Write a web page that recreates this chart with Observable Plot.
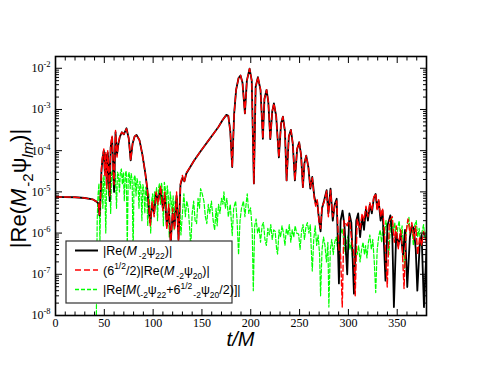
<!DOCTYPE html>
<html><head><meta charset="utf-8">
<script src="https://cdn.jsdelivr.net/npm/d3@7"></script>
<script src="https://cdn.jsdelivr.net/npm/@observablehq/plot@0.6"></script>
<style>body{margin:0;background:#fff}</style>
</head><body><div id="chart"></div>
<script>
// |Re(M -2psi22)|  (black, solid)
const blackT = [0,10,20,30,38,42,44,45,46,47,48,49.5,50.5,51.5,52.5,53.5,54.5,55.5,56.5,58,59,60,61.5,63,64.5,66,68,70,72.7,75,77,79,81,83,86,89,92,94,96,97,99,101,103,105,107.6,110,112,114,116,118,120,122,124,126,128,130,132,134,138,142,147,152,157,162,167,171,175,177,179,181,183,185,187.5,189.5,191.5,194,196,198.8,201,203.2,205,207.3,210,212.4,214,216.2,218,220,222,223.7,226,228.8,231,232.9,235,236.7,239,241.1,243,245.2,247.5,249.6,251.5,253.4,255,256.8,259,261,263,265,266.5,268,270,271.5,273,275,277.7,279.5,281.7,284,286,288,290.3,292,294,296,298.8,301,303,305.7,308,310,312,314,316,318,320,322,324,326,327.9,329.5,331,333,335,338,340,343,345,346.6,349,351,353.5,356,358,360.3,363,365,367,369,370.6,373,375,377.4,380];
const blackV = [7.6e-6,7.5e-6,7.4e-6,7.1e-6,6.6e-6,5.8e-6,5.2e-6,2.7e-6,6e-6,3e-5,6e-5,1e-4,3e-5,8e-5,1.5e-5,9e-5,4e-5,6e-6,1.2e-4,2.1e-4,5e-5,1e-5,2.8e-4,8e-5,1.5e-4,2.2e-4,2.8e-4,2.5e-4,3.5e-4,2e-4,5.8e-5,1.5e-4,2.2e-4,2.4e-4,1.8e-4,8e-5,2.8e-5,1.2e-5,3e-6,1.8e-6,5e-6,3e-6,9e-6,6e-6,1.2e-5,4e-6,8e-6,1.5e-6,4e-6,6e-7,3e-6,1.5e-6,8e-6,7e-7,1.5e-5,2.2e-5,1.8e-5,2.8e-5,4e-5,5.8e-5,8.5e-5,1.25e-4,1.8e-4,2.6e-4,3.8e-4,5.5e-4,7.4e-4,7e-4,3e-4,4e-5,8e-4,3e-3,5.8e-3,6.7e-3,4.5e-3,8e-4,5e-3,9.8e-3,5e-3,1.6e-5,3.5e-3,6.1e-3,3e-3,1.95e-4,1.8e-3,3e-3,1.5e-3,1.9e-4,9e-4,1.4e-3,7e-4,6.9e-5,4.5e-4,6.7e-4,3e-4,1.9e-5,2.2e-4,3.2e-4,1.5e-4,1.9e-5,1.1e-4,1.6e-4,8e-5,1.3e-5,5e-5,7.6e-5,4e-5,1.2e-5,2.3e-5,8e-6,5.3e-6,6e-6,2e-6,1.1e-6,4e-6,6e-6,1.1e-5,3e-6,1.2e-5,2e-6,5e-6,6.8e-6,6e-8,2e-6,3.5e-6,1.5e-6,1e-7,3e-6,1.8e-6,3.4e-8,2e-6,3e-6,8e-7,2.5e-6,1.2e-6,4e-6,2e-6,5e-6,3e-6,7e-6,8.9e-6,4e-6,6e-6,2e-6,3.5e-6,7e-8,1.5e-6,2.7e-6,8e-7,1.6e-8,1e-6,5e-7,9.5e-7,3e-7,1.2e-6,4.9e-8,8e-7,1.5e-6,1.3e-6,4e-7,4e-8,5e-7,9e-7,1.6e-8,4e-7];

// (6^{1/2}/2)|Re(M -2psi20)|  (red, dashed)
const redT = [0,10,20,30,38,42,44,45,46,47,48,49.5,50.5,51.5,52.5,53.5,54.5,55.5,56.5,58,59,60,61.5,63,64.5,66,68,70,72.7,75,77,79,81,83,86,89,92,94,96,97,99,101,103,105,107.6,110,112,114,116,118,120,122,124,126,128,130,132,134,138,142,147,152,157,162,167,171,175,177,179,181,183,185,187.5,189.5,191.5,194,196,198.8,201,203.2,205,207.3,210,212.4,214,216.2,218,220,222,223.7,226,228.8,231,232.9,235,236.7,239,241.1,243,245.2,247.5,249.6,251.5,253.4,255,256.8,259,261,263,265,266.5,268,270,271.5,273,275,277.7,279.5,281.7,284,286,288,290.3,292,293.7,295.5,298.8,301,303,305.7,307,309,312,314,316,318,320,322,324,326,328,329.5,331,333,335,337,339.8,342,345,347,349,351,353.5,355,357,359,361,363,365,367,369,371,373,375,377,380];
const redV = [7.6e-6,7.5e-6,7.4e-6,7.1e-6,6.6e-6,5.8e-6,5.2e-6,2.8e-6,7e-6,3.5e-5,7e-5,1.1e-4,2.5e-5,9e-5,1.2e-5,1e-4,3.5e-5,8e-6,1.4e-4,2.3e-4,4e-5,1.5e-5,3.1e-4,7e-5,1.6e-4,2.3e-4,2.8e-4,2.5e-4,3.4e-4,2e-4,5.8e-5,1.5e-4,2.2e-4,2.4e-4,1.8e-4,8e-5,2.8e-5,1.2e-5,3.5e-6,1.5e-6,6e-6,2.5e-6,1e-5,5e-6,1.4e-5,3.5e-6,1e-5,1.2e-6,5e-6,5e-7,4e-6,1.2e-6,1e-5,6e-7,1.6e-5,2.5e-5,1.7e-5,2.9e-5,4e-5,5.8e-5,8.5e-5,1.25e-4,1.8e-4,2.6e-4,3.8e-4,5.5e-4,7.4e-4,7e-4,3e-4,4e-5,8e-4,3e-3,5.8e-3,6.7e-3,4.5e-3,8e-4,5e-3,9.8e-3,5e-3,1.6e-5,3.5e-3,6.1e-3,3e-3,1.95e-4,1.8e-3,3e-3,1.5e-3,1.9e-4,9e-4,1.4e-3,7e-4,6.9e-5,4.5e-4,6.7e-4,3e-4,1.9e-5,2.2e-4,3.2e-4,1.5e-4,1.9e-5,1.1e-4,1.6e-4,8e-5,1.3e-5,5e-5,7.6e-5,4e-5,1.3e-5,2.2e-5,7e-6,4.5e-6,6.5e-6,1.8e-6,1.3e-6,4.5e-6,5.5e-6,1.05e-5,2.5e-6,1.1e-5,2.5e-6,4.5e-6,6e-6,4e-7,3e-7,1.6e-8,2e-6,1.5e-6,2.5e-6,8e-7,3e-7,3e-8,2.2e-6,1.2e-6,3e-6,2e-6,4.5e-6,2.5e-6,5.5e-6,3.5e-6,7.5e-6,9e-6,3.5e-6,6.5e-6,2.5e-6,4e-6,1e-6,4.9e-8,2e-6,2.5e-6,6e-7,1.5e-6,4e-7,1.2e-6,5e-7,4.5e-8,1e-6,2.2e-6,1e-6,1.8e-6,7e-7,1.5e-6,3e-7,8e-7,5e-7,1.1e-6,6e-7];

// |Re[M(-2psi22 + 6^{1/2} -2psi20/2)]|  (green, dashed)
const greenT = [41.5,42.7,43.5,44.5,45.5,46.5,47.5,48.5,49.5,50.5,51.5,52.5,53.5,54.5,55.5,56.5,57.5,58.5,59.5,60.5,61.5,62.5,63.5,64.5,65.5,66.5,67.5,68.5,69.5,70.5,71.5,72.5,73.5,74.5,75.5,76.5,77.5,78.5,79.5,80.5,81.5,82.5,83.5,84.5,85.5,86.5,87.5,88.5,89.5,90.5,91.5,92.5,93.5,94.5,95.5,96.5,97.5,98.5,99.5,100.5,101.5,102.5,103.5,104.5,105.5,106.5,107.5,108.5,109.5,110.5,111.5,112.5,113.5,114.5,115.5,116.5,117.5,118.5,119.5,120.5,121.5,122.5,123.5,124.5,125.5,127,128.5,130,131.5,133,134.5,136,137.5,138.5,140,141.5,143,144.5,146,147.5,148.6,150.3,152,153.5,155,156.5,158,159.7,161.5,163,164.5,165.6,167,168.5,170,171.5,172.5,174,175.5,177,179,181,182.5,184.5,186,187.5,189,190.5,192.5,194,195.2,196.4,198,199.8,201.5,202.6,204,205.5,207,208.5,210,211.6,213,214.5,216,217.5,219,220.5,222,223.5,225,226.5,227.5,229,230.5,232,233.5,235,236.5,238,239.5,241,242.5,244,245.5,247,249,250.5,252,253.5,255,256.5,258,259.6,261,262,263,264.5,266,267.5,269,270.5,271.5,273,274.5,276,277.5,279,280,281.5,283,284.5,286,287.5,289,290.5,292,293.7,295.4,297,298.5,300,301.5,303,304.5,306,307.5,309,310.5,312,313.5,315,316.5,317.6,319,320.5,322,323.5,325,326.5,328,329.5,331,332.5,334,335.5,337,338.5,340,341.5,343,344.5,346,347.5,349,350.5,352,353.5,355,356.5,357.5,359,360.5,362,363.5,365,366.5,368,369.5,371,372.5,374,375.5,377,378.5,380];
const greenV = [1e-9,2e-6,8e-6,1.6e-5,6e-7,1.2e-5,2.2e-5,4e-6,2.5e-5,1.5e-5,1e-6,2e-5,3e-5,8e-6,2.6e-5,3e-6,2.8e-5,3.4e-5,1.2e-5,3.7e-5,2e-5,4e-6,3e-5,2.6e-5,1e-5,3.2e-5,3.6e-5,1.5e-5,3e-5,6e-6,2.8e-5,3.2e-5,4e-7,2.5e-5,3e-5,1.2e-5,2.8e-5,2e-5,3e-7,2.2e-5,2.5e-5,8e-6,2.1e-5,1.6e-5,4e-6,1.8e-5,1.3e-5,2e-6,1.5e-5,1.1e-5,3e-6,1.3e-5,8e-6,1.5e-6,9e-6,5e-6,1e-6,6e-6,9e-6,3e-6,1e-5,6e-6,1.3e-5,2e-6,1.2e-5,1.6e-5,5e-6,1.7e-5,1.1e-5,1.5e-6,1.7e-5,1.2e-5,4e-6,1.4e-5,8e-6,8e-7,1e-5,6e-6,3e-6,8e-6,1.2e-6,6e-6,3e-6,7e-6,1.5e-6,5e-6,9e-7,3e-6,9e-6,2.5e-6,6e-6,4e-6,1.2e-6,4.5e-7,3e-6,6e-6,2e-6,1.7e-6,7e-6,4e-6,1.2e-5,9e-6,6e-6,2.5e-6,1.7e-6,5e-6,3e-6,6e-6,2e-6,1.2e-6,4e-6,1.5e-6,5e-6,3e-6,7e-6,5e-6,1e-5,4e-6,7e-6,2.5e-6,5e-6,8.7e-7,4e-6,6e-6,2e-6,3e-7,2e-6,4e-6,6e-6,2.5e-6,5e-6,9e-6,3e-6,4.1e-6,1.2e-6,4e-8,1.5e-6,2.2e-6,1e-6,1.4e-6,6e-7,1.5e-6,1.8e-6,7e-7,5e-7,1.3e-6,9e-7,1.6e-6,7e-7,1.2e-6,1.1e-6,4e-7,3.1e-7,1.2e-6,8e-7,1.5e-6,1e-6,5e-7,1.3e-6,9e-7,1.6e-6,6e-7,1.2e-6,8e-7,1.5e-6,1e-6,9.5e-7,4e-7,1.1e-6,1.6e-6,7e-7,1.4e-6,1.8e-6,1e-6,1.6e-6,4e-7,1.2e-7,7e-7,1.5e-6,5e-7,9e-7,3e-7,3e-8,4e-7,8e-7,5e-7,2e-7,6e-7,1.6e-8,4e-7,7e-7,3e-7,6e-7,8e-7,4e-7,5e-7,9e-7,1.3e-6,6e-7,3e-7,7e-7,9e-7,4e-7,6e-7,2e-7,9e-8,4e-7,3e-7,5e-7,2e-7,4e-7,6e-7,3e-7,5e-7,2.5e-7,6e-7,9e-7,4e-7,7e-7,2e-7,3.6e-8,4e-7,8e-7,1.2e-6,6e-7,1.5e-6,9e-7,2e-6,1.2e-6,3e-7,1.5e-6,2.4e-6,1e-6,1.8e-6,6e-7,1.3e-6,2e-6,8e-7,1.5e-6,4e-7,1.4e-7,1e-6,1.7e-6,2.4e-6,9e-7,1.5e-6,5e-7,1.6e-6,2e-6,8e-7,1.3e-6,5e-7,1.1e-6,1.6e-6,7e-7,1.2e-6];

const xMajor = [0,50,100,150,200,250,300,350];
const xMinor = [10,20,30,40,60,70,80,90,110,120,130,140,160,170,180,190,210,220,230,240,260,270,280,290,310,320,330,340,360,370,380];
const yMajor = [1e-8,1e-7,1e-6,1e-5,1e-4,1e-3,1e-2];
const yMinor = yMajor.flatMap(d => [2,3,4,5,6,7,8,9].map(k => k*d)).filter(v => v < 0.019);

const toRows = (T, V) => T.map((t, i) => ({t, v: V[i]}));
const black = toRows(blackT, blackV), red = toRows(redT, redV), green = toRows(greenT, greenV);

const M = {left: 55, right: 54, top: 56, bottom: 56};
const W = 480, H = 371;
const blank = () => "";
const chart = Plot.plot({
  width: W, height: H,
  marginLeft: M.left, marginRight: M.right, marginTop: M.top, marginBottom: M.bottom,
  style: {background: "white", fontFamily: "'Liberation Serif', serif", fontSize: "12px", color: "black"},
  x: {domain: [0, 380]},
  y: {type: "log", domain: [1e-8, 0.0193]},
  marks: [
    Plot.line(green, {x: "t", y: "v", stroke: "#00ff00", strokeWidth: 1.2, strokeDasharray: "4,2", clip: true}),
    Plot.line(black, {x: "t", y: "v", stroke: "black", strokeWidth: 1.8, clip: true}),
    Plot.line(red, {x: "t", y: "v", stroke: "#ff0000", strokeWidth: 1.4, strokeDasharray: "6,3", clip: true}),
    Plot.axisX({anchor: "bottom", ticks: xMajor, tickSize: 0, tickPadding: 3, tickFormat: d => String(d), label: null, fontSize: 12}),
    Plot.axisX({anchor: "bottom", ticks: xMajor, tickSize: -6, tickFormat: blank, label: null}),
    Plot.axisX({anchor: "bottom", ticks: xMinor, tickSize: -3.5, tickFormat: blank, label: null}),
    Plot.axisX({anchor: "top", ticks: xMajor, tickSize: -6, tickFormat: blank, label: null}),
    Plot.axisX({anchor: "top", ticks: xMinor, tickSize: -3.5, tickFormat: blank, label: null}),
    Plot.axisY({anchor: "left", ticks: yMajor, tickSize: 0, tickPadding: 5, tickFormat: d => "10^" + Math.round(Math.log10(d)), label: null, fontSize: 12}),
    Plot.axisY({anchor: "left", ticks: yMajor, tickSize: -7, tickFormat: blank, label: null}),
    Plot.axisY({anchor: "left", ticks: yMinor, tickSize: -4, tickFormat: blank, label: null}),
    Plot.axisY({anchor: "right", ticks: yMajor, tickSize: -7, tickFormat: blank, label: null}),
    Plot.axisY({anchor: "right", ticks: yMinor, tickSize: -4, tickFormat: blank, label: null}),
    Plot.frame({stroke: "black", strokeWidth: 1.6})
  ]
});
document.getElementById("chart").appendChild(chart);

// rich text helper (sub/superscripts, italics)
function rich(sel, parts, base) {
  let off = 0;
  for (const p of parts) {
    const ts = sel.append("tspan").text(p.t);
    const target = p.sub ? base * 0.32 : p.sup ? -base * 0.42 : 0;
    const dy = target - off;
    if (dy) ts.attr("dy", dy);
    off = target;
    if (p.sub || p.sup) ts.attr("font-size", base * 0.68);
    if (p.it) ts.attr("font-style", "italic");
    if (p.dx) ts.attr("dx", p.dx);
  }
}

const svg = d3.select(chart);
// y tick labels as 10 with superscript exponent
svg.selectAll("text").each(function () {
  const m = /^10\^(-?\d+)$/.exec(this.textContent);
  if (!m) return;
  const s = d3.select(this);
  s.text("");
  s.append("tspan").text("10");
  s.append("tspan").attr("dy", -5).attr("font-size", 8.5).text(m[1]);
});

const sans = "'Liberation Sans', Arial, sans-serif";
// y axis label
const yl = svg.append("text")
  .attr("transform", `translate(26,${(M.top + H - M.bottom) / 2 + 3}) rotate(-90)`)
  .attr("text-anchor", "middle").attr("font-family", sans).attr("font-size", 22).attr("fill", "black");
rich(yl, [{t: "|Re("}, {t: "M", it: true}, {t: "-2", sub: true, dx: 2}, {t: "ψ"}, {t: "lm", sub: true, it: true}, {t: ")|"}], 22);

// x axis label
svg.append("text").attr("x", (M.left + W - M.right) / 2).attr("y", H - 25)
  .attr("text-anchor", "middle").attr("font-family", sans).attr("font-size", 20)
  .attr("font-style", "italic").attr("fill", "black").text("t/M");

// legend
const lgX = M.left + 11, lgY = M.top + 185, lgW = 166, lgH = 62;
const lg = svg.append("g").attr("text-anchor", "start");
lg.append("rect").attr("x", lgX).attr("y", lgY).attr("width", lgW).attr("height", lgH)
  .attr("fill", "white").attr("stroke", "#333").attr("stroke-width", 1.2);
const items = [
  {stroke: "black", w: 2, dash: null, parts: [{t: "|Re("}, {t: "M", it: true}, {t: "-2", sub: true, dx: 2}, {t: "ψ"}, {t: "22", sub: true}, {t: ")|"}]},
  {stroke: "#ff0000", w: 1.4, dash: "6,3", parts: [{t: "(6"}, {t: "1/2", sup: true}, {t: "/2)|Re("}, {t: "M", it: true}, {t: "-2", sub: true, dx: 2}, {t: "ψ"}, {t: "20", sub: true}, {t: ")|"}]},
  {stroke: "#00ff00", w: 1.4, dash: "4,2", parts: [{t: "|Re["}, {t: "M", it: true}, {t: "("}, {t: "-2", sub: true}, {t: "ψ"}, {t: "22", sub: true}, {t: "+6"}, {t: "1/2", sup: true}, {t: "-2", sub: true, dx: 1}, {t: "ψ"}, {t: "20", sub: true}, {t: "/2)]|"}]}
];
items.forEach((it, i) => {
  const y = lgY + 9.5 + i * 19.5;
  const ln = lg.append("line").attr("x1", lgX + 9).attr("x2", lgX + 32).attr("y1", y).attr("y2", y)
    .attr("stroke", it.stroke).attr("stroke-width", it.w);
  if (it.dash) ln.attr("stroke-dasharray", it.dash);
  const tx = lg.append("text").attr("x", lgX + 37).attr("y", y + 4.5).attr("text-anchor", "start")
    .attr("font-family", sans).attr("font-size", 12.5).attr("fill", "black");
  rich(tx, it.parts, 12.5);
});
</script>
</body></html>
